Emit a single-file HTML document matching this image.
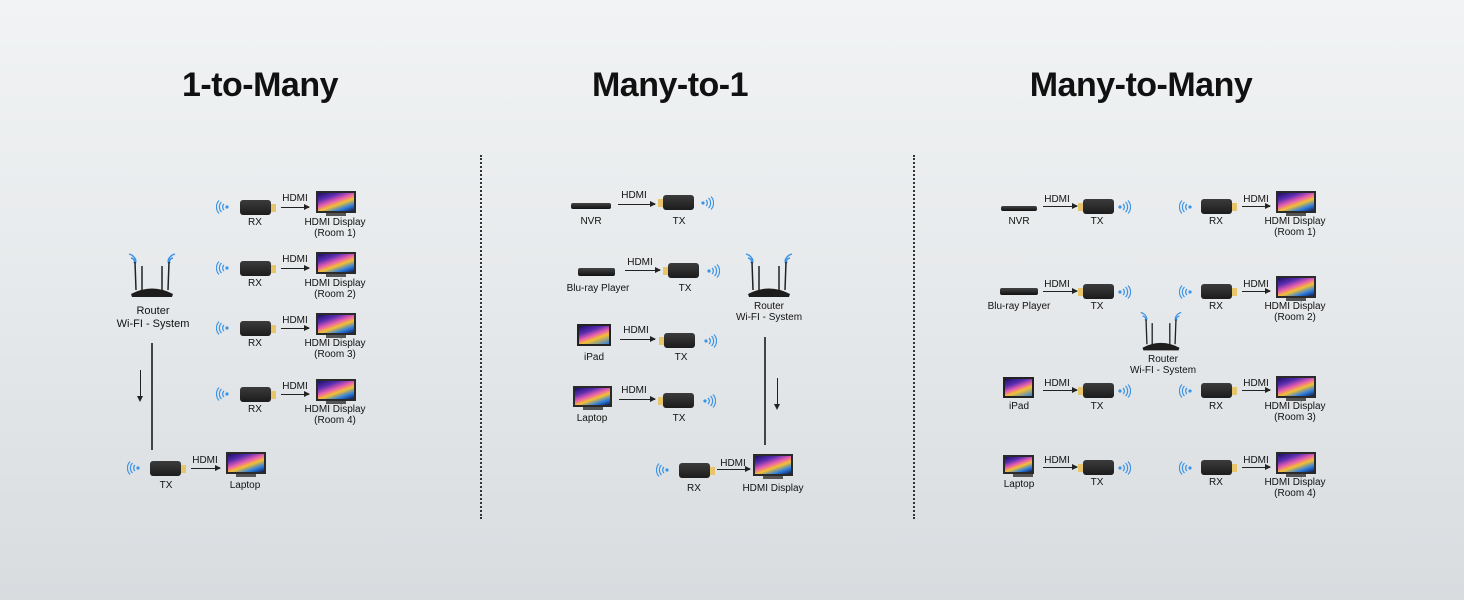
<!DOCTYPE html>
<html><head><meta charset="utf-8"><style>
*{margin:0;padding:0;box-sizing:border-box}
body{width:1464px;height:600px;overflow:hidden;position:relative;background:linear-gradient(180deg,#f1f3f4 0%,#e6e9eb 50%,#d8dcdf 100%);font-family:"Liberation Sans",sans-serif;color:#111}
.t{position:absolute;top:66px;font-size:34px;font-weight:bold;transform:translateX(-50%);white-space:nowrap;letter-spacing:-0.5px}
.v{position:absolute;width:0;border-left:2px dotted #333;top:155px;height:364px}
.l{position:absolute;font-size:10px;line-height:11px;transform:translateX(-50%);white-space:nowrap;text-align:center;color:#111}
.d{position:absolute;width:31px;height:15px;background:linear-gradient(#3b3b3b,#1c1c1c);border-radius:3px}
.d.r::after,.d.x::after{content:"";position:absolute;top:4px;width:5px;height:8px;background:#e8c46a}
.d.r::after{right:-5px}.d.x::after{left:-5px}
.a{position:absolute;height:1px;background:#222}
.a::after{content:"";position:absolute;right:-1px;top:-3px;border-left:6px solid #222;border-top:3.5px solid transparent;border-bottom:3.5px solid transparent}
.s{position:absolute;width:40px;height:22px;border:2px solid #2a2a2a;background:linear-gradient(160deg,#1a1060 0%,#5a2db0 25%,#e85fb0 45%,#f5c030 60%,#2d7fe0 80%,#0f1a50 100%)}
.s::after{content:"";position:absolute;left:8px;bottom:-5px;width:20px;height:3px;background:#555}
.w{position:absolute;width:14px;height:14px}
.ln{position:absolute;width:2px;background:#444}
.da{position:absolute;width:1px;background:#222}
.da::after{content:"";position:absolute;left:-3px;bottom:-2px;border-top:6px solid #222;border-left:3.5px solid transparent;border-right:3.5px solid transparent}
.box{position:absolute;background:linear-gradient(#444,#111);border-radius:2px}
.tab{position:absolute;border:2px solid #222;background:linear-gradient(160deg,#1a1060,#5a2db0 30%,#e85fb0 50%,#f5c030 65%,#2d7fe0)}
</style></head><body>
<svg width="0" height="0" style="position:absolute">
<defs>
<symbol id="wr" viewBox="0 0 14 14"><circle cx="3" cy="7" r="1.6" fill="#3b93e6"/><path d="M6 4a4 4 0 0 1 0 6M8.5 2a7 7 0 0 1 0 10M11 0.5a9.5 9.5 0 0 1 0 13" stroke="#3b93e6" stroke-width="1.2" fill="none"/></symbol>
<symbol id="wl" viewBox="0 0 14 14"><circle cx="11" cy="7" r="1.6" fill="#3b93e6"/><path d="M8 4a4 4 0 0 0 0 6M5.5 2a7 7 0 0 0 0 10M3 0.5a9.5 9.5 0 0 0 0 13" stroke="#3b93e6" stroke-width="1.2" fill="none"/></symbol>
<symbol id="rt" viewBox="0 0 60 50"><path d="M9 8a5 5 0 0 1 4 4M7 4a9 9 0 0 1 7 7M51 8a5 5 0 0 0 -4 4M53 4a9 9 0 0 0 -7 7" stroke="#3b93e6" stroke-width="1.4" fill="none"/><circle cx="13" cy="12" r="1.5" fill="#3b93e6"/><circle cx="47" cy="12" r="1.5" fill="#3b93e6"/><path d="M13 12L14 40M20 16L20 40M40 16L40 40M47 12L46 40" stroke="#222" stroke-width="1.5"/><path d="M9 44Q30 33 51 44L50 47L10 47Z" fill="#1d1d1d"/></symbol>
</defs></svg>

<div class="t" style="left:260px">1-to-Many</div>
<div class="t" style="left:670px">Many-to-1</div>
<div class="t" style="left:1141px">Many-to-Many</div>
<div class="v" style="left:480px"></div>
<div class="v" style="left:913px"></div>

<!-- Panel 1 -->
<svg class="w" style="left:216px;top:200px"><use href="#wl"/></svg><div class="d r" style="left:240px;top:200px"></div><div class="l" style="left:255px;top:217px">RX</div><div class="l" style="left:295px;top:193px">HDMI</div><div class="a" style="left:281px;top:207px;width:28px"></div><div class="s" style="left:316px;top:191px"></div><div class="l" style="left:335px;top:217px">HDMI Display<br>(Room 1)</div>
<svg class="w" style="left:216px;top:261px"><use href="#wl"/></svg><div class="d r" style="left:240px;top:261px"></div><div class="l" style="left:255px;top:278px">RX</div><div class="l" style="left:295px;top:254px">HDMI</div><div class="a" style="left:281px;top:268px;width:28px"></div><div class="s" style="left:316px;top:252px"></div><div class="l" style="left:335px;top:278px">HDMI Display<br>(Room 2)</div>
<svg class="w" style="left:216px;top:321px"><use href="#wl"/></svg><div class="d r" style="left:240px;top:321px"></div><div class="l" style="left:255px;top:338px">RX</div><div class="l" style="left:295px;top:315px">HDMI</div><div class="a" style="left:281px;top:328px;width:28px"></div><div class="s" style="left:316px;top:313px"></div><div class="l" style="left:335px;top:338px">HDMI Display<br>(Room 3)</div>
<svg class="w" style="left:216px;top:387px"><use href="#wl"/></svg><div class="d r" style="left:240px;top:387px"></div><div class="l" style="left:255px;top:404px">RX</div><div class="l" style="left:295px;top:381px">HDMI</div><div class="a" style="left:281px;top:394px;width:28px"></div><div class="s" style="left:316px;top:379px"></div><div class="l" style="left:335px;top:404px">HDMI Display<br>(Room 4)</div>
<svg style="position:absolute;left:122px;top:250px" width="60" height="50"><use href="#rt"/></svg>
<div class="l" style="left:153px;top:305px;font-size:11px;line-height:13px">Router<br>Wi-FI - System</div>
<div class="ln" style="left:151px;top:343px;height:107px"></div>
<div class="da" style="left:140px;top:370px;height:30px"></div>
<svg class="w" style="left:127px;top:461px"><use href="#wl"/></svg><div class="d r" style="left:150px;top:461px"></div><div class="l" style="left:166px;top:480px">TX</div><div class="l" style="left:205px;top:455px">HDMI</div><div class="a" style="left:191px;top:468px;width:29px"></div><div class="s" style="left:226px;top:452px"></div><div class="l" style="left:245px;top:480px">Laptop</div>

<!-- Panel 2 -->
<div class="box" style="left:571px;top:203px;width:40px;height:6px"></div><div class="l" style="left:591px;top:216px">NVR</div><div class="l" style="left:634px;top:190px">HDMI</div><div class="a" style="left:618px;top:204px;width:37px"></div><div class="d x" style="left:663px;top:195px"></div><svg class="w" style="left:700px;top:196px"><use href="#wr"/></svg><div class="l" style="left:679px;top:216px">TX</div>
<div class="box" style="left:578px;top:268px;width:37px;height:8px"></div><div class="l" style="left:598px;top:283px">Blu-ray Player</div><div class="l" style="left:640px;top:257px">HDMI</div><div class="a" style="left:625px;top:270px;width:35px"></div><div class="d x" style="left:668px;top:263px"></div><svg class="w" style="left:706px;top:264px"><use href="#wr"/></svg><div class="l" style="left:685px;top:283px">TX</div>
<div class="tab" style="left:577px;top:324px;width:34px;height:22px"></div><div class="l" style="left:594px;top:352px">iPad</div><div class="l" style="left:636px;top:325px">HDMI</div><div class="a" style="left:620px;top:339px;width:35px"></div><div class="d x" style="left:664px;top:333px"></div><svg class="w" style="left:703px;top:334px"><use href="#wr"/></svg><div class="l" style="left:681px;top:352px">TX</div>
<div class="s" style="left:573px;top:386px;width:39px;height:21px"></div><div class="l" style="left:592px;top:413px">Laptop</div><div class="l" style="left:634px;top:385px">HDMI</div><div class="a" style="left:619px;top:399px;width:36px"></div><div class="d x" style="left:663px;top:393px"></div><svg class="w" style="left:702px;top:394px"><use href="#wr"/></svg><div class="l" style="left:679px;top:413px">TX</div>
<svg style="position:absolute;left:739px;top:250px" width="60" height="50"><use href="#rt"/></svg>
<div class="l" style="left:769px;top:301px">Router<br>Wi-FI - System</div>
<div class="ln" style="left:764px;top:337px;height:108px"></div>
<div class="da" style="left:777px;top:378px;height:30px"></div>
<svg class="w" style="left:656px;top:463px"><use href="#wl"/></svg><div class="d r" style="left:679px;top:463px"></div><div class="l" style="left:694px;top:483px">RX</div><div class="l" style="left:733px;top:458px">HDMI</div><div class="a" style="left:717px;top:469px;width:33px"></div><div class="s" style="left:753px;top:454px"></div><div class="l" style="left:773px;top:483px">HDMI Display</div>

<!-- Panel 3 -->
<div class="box" style="left:1001px;top:206px;width:36px;height:5px"></div><div class="l" style="left:1019px;top:216px">NVR</div><div class="l" style="left:1057px;top:194px">HDMI</div><div class="a" style="left:1043px;top:206px;width:34px"></div><div class="d x" style="left:1083px;top:199px"></div><svg class="w" style="left:1117px;top:200px"><use href="#wr"/></svg><div class="l" style="left:1097px;top:216px">TX</div>
<svg class="w" style="left:1179px;top:200px"><use href="#wl"/></svg><div class="d r" style="left:1201px;top:199px"></div><div class="l" style="left:1216px;top:216px">RX</div><div class="l" style="left:1256px;top:194px">HDMI</div><div class="a" style="left:1242px;top:206px;width:28px"></div><div class="s" style="left:1276px;top:191px"></div><div class="l" style="left:1295px;top:216px">HDMI Display<br>(Room 1)</div>

<div class="box" style="left:1000px;top:288px;width:38px;height:7px"></div><div class="l" style="left:1019px;top:301px">Blu-ray Player</div><div class="l" style="left:1057px;top:279px">HDMI</div><div class="a" style="left:1043px;top:291px;width:34px"></div><div class="d x" style="left:1083px;top:284px"></div><svg class="w" style="left:1117px;top:285px"><use href="#wr"/></svg><div class="l" style="left:1097px;top:301px">TX</div>
<svg class="w" style="left:1179px;top:285px"><use href="#wl"/></svg><div class="d r" style="left:1201px;top:284px"></div><div class="l" style="left:1216px;top:301px">RX</div><div class="l" style="left:1256px;top:279px">HDMI</div><div class="a" style="left:1242px;top:291px;width:28px"></div><div class="s" style="left:1276px;top:276px"></div><div class="l" style="left:1295px;top:301px">HDMI Display<br>(Room 2)</div>

<svg style="position:absolute;left:1131px;top:309px" width="60" height="44"><use href="#rt"/></svg>
<div class="l" style="left:1163px;top:354px">Router<br>Wi-FI - System</div>

<div class="tab" style="left:1003px;top:377px;width:31px;height:21px"></div><div class="l" style="left:1019px;top:401px">iPad</div><div class="l" style="left:1057px;top:378px">HDMI</div><div class="a" style="left:1043px;top:390px;width:34px"></div><div class="d x" style="left:1083px;top:383px"></div><svg class="w" style="left:1117px;top:384px"><use href="#wr"/></svg><div class="l" style="left:1097px;top:401px">TX</div>
<svg class="w" style="left:1179px;top:384px"><use href="#wl"/></svg><div class="d r" style="left:1201px;top:383px"></div><div class="l" style="left:1216px;top:401px">RX</div><div class="l" style="left:1256px;top:378px">HDMI</div><div class="a" style="left:1242px;top:390px;width:28px"></div><div class="s" style="left:1276px;top:376px"></div><div class="l" style="left:1295px;top:401px">HDMI Display<br>(Room 3)</div>

<div class="s" style="left:1003px;top:455px;width:31px;height:19px"></div><div class="l" style="left:1019px;top:479px">Laptop</div><div class="l" style="left:1057px;top:455px">HDMI</div><div class="a" style="left:1043px;top:467px;width:34px"></div><div class="d x" style="left:1083px;top:460px"></div><svg class="w" style="left:1117px;top:461px"><use href="#wr"/></svg><div class="l" style="left:1097px;top:477px">TX</div>
<svg class="w" style="left:1179px;top:461px"><use href="#wl"/></svg><div class="d r" style="left:1201px;top:460px"></div><div class="l" style="left:1216px;top:477px">RX</div><div class="l" style="left:1256px;top:455px">HDMI</div><div class="a" style="left:1242px;top:467px;width:28px"></div><div class="s" style="left:1276px;top:452px"></div><div class="l" style="left:1295px;top:477px">HDMI Display<br>(Room 4)</div>
</body></html>
